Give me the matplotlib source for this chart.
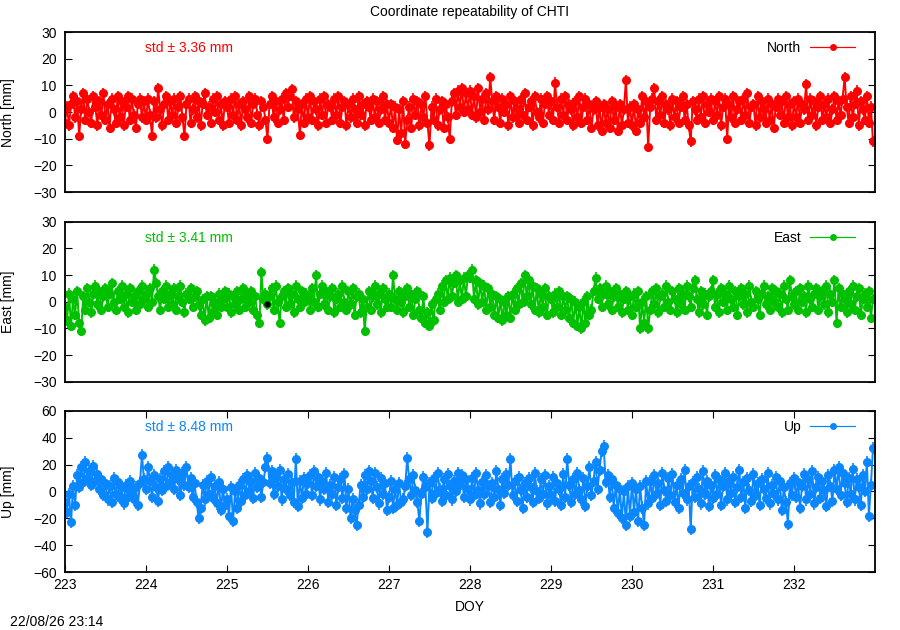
"""
Coordinate repeatability plot for station CHTI (North / East / Up residuals vs DOY)
"""
import numpy as np
import matplotlib
matplotlib.use("Agg")
import matplotlib.pyplot as plt
from matplotlib.legend_handler import HandlerErrorbar

plt.rcParams["font.family"] = ["Liberation Sans", "DejaVu Sans"]
plt.rcParams["font.size"] = 10

# ── Data (mm), one row per day, sampled every 0.025 day from DOY 223 ──────
DOY_START = 223.0
DOY_STEP = 0.025

north = (
    [-4, 2, -5, 3, 6, -2, 4, -9, 1, 7, -3, 5, 0, -4, 6, 2, -5, 4, -1, 7, -3, 3, -6, 5, 1, -4, 6, -2, 4, -5, 2, 6, -3, 5, -1, -6, 3, 5, -2, 4] +
    [-3, 5, -1, -9, 4, -2, 9, 1, -5, 3, 6, -3, 4, -1, 5, -4, 2, 6, -2, -9, 3, 5, -4, 1, 6, -2, 4, -5, 3, 7, -1, 2, -4, 5, 0, 6, -3, 3, -5, 4] +
    [2, -4, 5, -1, 6, -3, 3, -5, 4, 1, -2, 6, -4, 3, 5, -1, -5, 4, 2, -3, -10, 3, 6, -2, 4, -4, 1, 5, -3, 7, 2, 6, 8.5, -2, 4, 1, -8.5, 3, -4, 5] +
    [-2, 6, -3, 4, 1, -5, 5, -1, 6, -4, 3, 2, -3, 5, -1, 6, -4, 2, 4, -5, 3, -2, 5, 1, -4, 6, -1, 3, -5, 4, 2, -3, 5, -2, 4, -4, 1, 6, -3, 3] +
    [-4, 3, -6, 2, -10.5, 1, -8, 4, -12, -3, 2, -6, 5, -1, 4, -5, 3, -2, 6, -4, -12.5, 2, -3, 5, -5, 1, 4, -6, 3, -2, -10, 4, 7, -1, 8, 2, 9, 0, 7, 1] +
    [8, -1, 6, -2, 9, 0, 5, -3, 7, 1, 13, 4, -3, 6, 2, -4, 5, 0, 3, -5, 6, -2, 4, 1, -4, 5, -1, 7, -3, 2, 4, -5, 6, 0, -2, 5, -4, 3, 6, -1] +
    [4, -3, 11, 2, -4, 5, -1, 6, -3, 3, 1, -5, 4, -2, 6, -4, 2, 5, -3, 3, -6, 1, 4, -5, 2, -7, 3, -4, 1, -6, 4, -3, 2, -7, 3, -5, 1, 12, -4, 2] +
    [-5, 3, -7, 1, -4, 6, -2, 4, -13, 2, 5, 9, -3, 4, -1, 6, -4, 3, 1, -5, 5, -2, 4, -4, 2, 6, -3, 3, -5, -11, 4, 1, -3, 5, -2, 6, -4, 3, 0, 5] +
    [-3, 4, -1, 6, -5, 2, 5, -10, 3, -2, 6, -4, 1, 4, -3, 5, -1, 7, -4, 2, 3, -5, 6, -2, 4, 1, -4, 5, -3, 3, -6, 2, 5, -1, 4, -4, 6, -2, 3, -5] +
    [4, -2, 5, -4, 3, 1, 10.5, -3, 5, -1, 4, -5, 2, 6, -3, 3, -2, 5, -4, 1, 6, -3, 4, -1, 5, 13, 2, -4, 6, -2, 3, 8, -5, 4, 1, -3, 6, -4, 2, -11]
)

east = (
    [-2, -7, 3, -9, 1, -5, 4, -8, -11, 2, -3, 5, 0, -4, 3, 6, -1, 4, -3, 2, 5, -2, 3, 7, 0, -3, 4, 1, 6, -2, 3, -4, 5, 0, 2, -3, 4, -1, 6, 1] +
    [3, -2, 5, 0, 12, 7, 2, -3, 4, 1, 6, -2, 3, -1, 5, -3, 2, 6, 0, -4, 3, 1, 5, -2, 2, 4, -1, -5, 1, -7, 2, -6, 2, -4, 0, -5, 3, -2, 1, 4] +
    [-2, 3, -4, 2, -1, 4, -3, 1, 5, -2, 3, 0, 4, -3, 2, -5, -8, 11, 1, 3, -1, 2, 5, -3, 6, 0, -8, 2, 4, -2, 5, -1, 3, -4, 6, 1, -2, 4, 0, 3] +
    [2, -3, 5, 0, 10, -2, 3, 6, -1, 4, -3, 2, 5, -4, 1, 3, -2, 6, 0, -3, 4, -1, 5, -5, 2, 3, -4, 1, -11, -2, 4, -3, 2, 6, -1, 3, -4, 5, 1, -2] +
    [3, -2, 10, 1, -3, 4, 0, -4, 2, 5, -2, 3, -5, 1, 4, -3, -6, 2, -8, -4, -9, -1, -7, 1, 3, -3, 6, 0, 8, 1, 9, 2, 7, 10, 0, 8, 1, 9, 2, 10] +
    [9, 12, 1, 8, -1, 7, 0, 6, -3, 5, -2, 3, -5, 2, -6, 1, -7, 0, -5, 2, -6, 3, -3, 5, -1, 7, 0, 10, 2, 8, -1, 6, -3, 5, -4, 3, -2, 5, -5, 2] +
    [1, -4, 3, -2, 4, -5, 2, -3, 2, -6, 1, -8, 0, -9, -2, -10, 0, -8, 2, -5, -3, 4, 9, 1, 5, -2, 3, 6, -1, 4, -3, 2, 5, -2, 3, -4, 1, 4, -3, 2] +
    [-5, 3, -2, 4, -10, 0, -8, 2, -10, -3, 4, -1, 5, -4, 2, 3, -2, 6, 0, -3, 4, 1, -4, 5, -1, 3, -3, 6, 2, -2, 5, 8, 1, -4, 4, -1, 3, -5, 2, 4] +
    [8, -2, 3, -4, 5, 0, 3, -3, 6, 1, -2, 4, -5, 2, 5, -1, 3, -4, 6, 0, -2, 4, 1, -5, 3, 6, -1, 2, -3, 5, 0, 4, -2, 3, -4, 6, 1, -3, 8, 2] +
    [-1, 4, -3, 5, 0, 2, -4, 6, 1, -2, 3, 5, -3, 2, 4, -1, 6, -4, 3, 0, 8, -8, 5, -2, 3, 1, -4, 4, -1, 6, -3, 2, 5, -5, 1, 3, -2, 4, -6, 1]
)

up = (
    [-8, -15, -2, -23, 4, -10, 12, 3, 18, 7, 22, 10, 15, 5, 19, 8, 13, 2, 9, -3, 6, -6, 4, -8, 10, -2, 7, -5, 3, -9, 5, -4, 8, 0, -6, 3, -10, 6, 27, 9] +
    [2, 18, 8, -4, 12, 3, -7, 9, 1, 15, 4, 18, 7, 12, 2, 16, 9, -3, 14, 5, 18, 3, 10, -4, 6, -8, -20, -12, 5, -6, 8, -2, 11, -5, 4, -9, 7, -14, 2, -10] +
    [-6, -18, 3, -22, 0, -12, 5, -7, 9, -3, 12, 0, 8, -5, 14, 3, 10, -4, 7, 18, 25, 6, 15, -2, 11, 4, 16, -6, 9, 2, 13, -3, 7, -8, 24, -11, 8, -5, 10, -2] +
    [6, 12, -3, 15, 4, 11, -6, 8, 2, 14, -8, 5, -2, 11, -10, 3, 9, -5, 13, -12, 2, -20, -6, -14, -25, -10, 5, -4, 12, 2, 15, 8, -5, 14, 3, -9, 10, -2, 6, -14] +
    [-4, 8, -12, 2, -10, 6, -8, -6, 4, 25, 9, -3, 12, 1, -8, -22, -2, 11, 3, -30, 6, -5, 10, -1, 14, 2, -7, 9, -3, 13, 4, -6, 8, 0, 14, 5, 12, -4, 9, 2] +
    [-6, 10, -3, 14, 1, -9, 7, -2, 12, 4, -8, 6, -4, 15, 2, -10, 9, -1, 13, 5, 24, -3, 8, -7, 11, 1, -12, 6, -4, 10, 3, -8, 14, 0, -5, 9, -2, 12, -9, 4] +
    [-3, 11, -7, 6, 2, -10, 13, -4, 24, 5, -8, 9, -2, 14, 1, -6, 10, -11, 4, 18, -3, 8, 22, 2, 16, 30, 34, 7, 12, -4, 9, -12, 5, -16, 2, -20, 0, -25, 4, -18] +
    [6, -15, 2, -22, 4, -12, -25, 8, -9, 8, -5, 12, -2, 6, -10, 14, 1, -7, 10, -3, 13, -8, 5, -12, 9, -1, 16, -6, 4, -28, 7, -4, 11, 2, -9, 15, -2, 8, -11, 5] +
    [-5, 12, -2, 9, -10, 4, 14, -6, 8, -1, 11, -8, 3, 16, -4, 7, -12, 10, 1, -7, 13, -3, 6, -10, 9, 2, -5, 14, -9, 5, -2, 11, -6, 8, -14, 3, -8, -24, 6, -3] +
    [10, -4, 7, -12, 4, 13, -6, 9, -2, 15, -9, 3, 11, -5, 8, 1, -11, 12, 4, -7, 16, 2, 18, -3, 14, 6, -8, 10, -2, 17, -6, 9, 3, -10, 12, 0, 22, -18, 5, 32]
)

# formal errors (mm), one value per component
north_sig = 2.0
east_sig = 2.0
up_sig = 4.5

# single flagged epoch in the East series (drawn in black)
east_flag_doy = [225.49]
east_flag_val = [-1.0]

STD = {"North": 3.36, "East": 3.41, "Up": 8.48}
COLORS = {"North": "#ff0000", "East": "#00c000", "Up": "#0a86ff"}
YLIMS = {"North": (-30, 30), "East": (-30, 30), "Up": (-60, 60)}
YTICKS = {"North": range(-30, 31, 10), "East": range(-30, 31, 10), "Up": range(-60, 61, 20)}

doy = DOY_START + DOY_STEP * np.arange(len(north))
series = {"North": (north, north_sig), "East": (east, east_sig), "Up": (up, up_sig)}

# ── Figure ────────────────────────────────────────────────────────────────
fig = plt.figure(figsize=(9, 6.3), dpi=100)
positions = [
    [0.0722, 0.695, 0.9, 0.254],
    [0.0722, 0.394, 0.9, 0.254],
    [0.0722, 0.092, 0.9, 0.256],
]

for i, (name, (vals, sig)) in enumerate(series.items()):
    ax = fig.add_axes(positions[i])
    c = COLORS[name]
    ax.errorbar(doy, vals, yerr=sig, fmt="-o", color=c, ecolor=c,
                lw=1.4, elinewidth=1.2, capsize=0, ms=6.5, mew=0, zorder=2)
    if name == "East":
        ax.plot(east_flag_doy, east_flag_val, "o", color="black", ms=3.5, zorder=3)

    # legend proxy: horizontal line with end caps and a point
    proxy = ax.errorbar([np.nan], [np.nan], xerr=1.0, fmt="-o", color=c,
                        ecolor=c, lw=0.8, elinewidth=0.8, capsize=3, ms=5, mew=0)
    ax.legend([proxy], [name], loc="upper right", bbox_to_anchor=(0.981, 0.969),
              frameon=False, markerfirst=False, handlelength=3.3, handletextpad=0.6,
              borderaxespad=0, borderpad=0.3, numpoints=1, fontsize=10,
              handler_map={proxy: HandlerErrorbar(xerr_size=1.65)})

    ax.text(0.099, 0.9, f"std \u00b1 {STD[name]:.2f} mm", color=c,
            transform=ax.transAxes, ha="left", va="center", fontsize=10)

    ax.set_xlim(223, 233)
    ax.set_ylim(*YLIMS[name])
    ax.set_yticks(list(YTICKS[name]))
    ax.set_ylabel(f"{name} [mm]")
    ax.yaxis.set_label_coords(-0.062, 0.5)
    ax.tick_params(axis="y", direction="in", left=True, right=True, length=5, width=0.8, pad=6)
    for sp in ax.spines.values():
        sp.set_linewidth(1.3)

    if i < 2:
        ax.tick_params(axis="x", bottom=False, top=False, labelbottom=False)
    else:
        ax.set_xticks(range(223, 233))
        ax.tick_params(axis="x", direction="in", bottom=True, top=True, length=5, width=0.8, pad=4)
        ax.set_xlabel("DOY", labelpad=6)

fig.text(0.522, 0.981, "Coordinate repeatability of CHTI", ha="center", va="center", fontsize=10)
fig.text(0.011, 0.013, "22/08/26 23:14", ha="left", va="center", fontsize=10)

fig.savefig("out.png", dpi=100)
